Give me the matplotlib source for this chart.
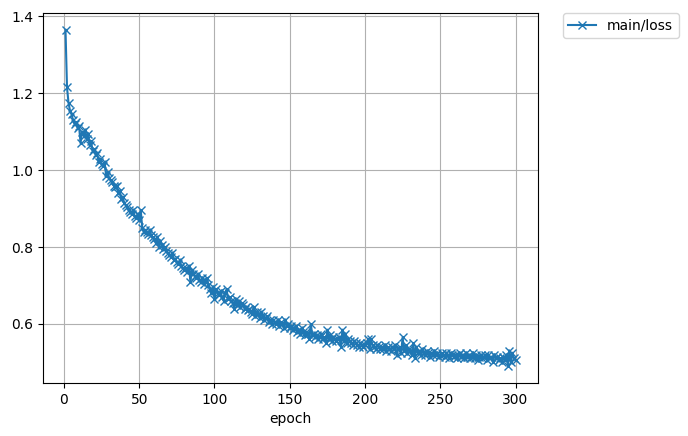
import matplotlib
matplotlib.use("Agg")
import matplotlib.pyplot as plt

loss = [
    1.365, 1.215, 1.175, 1.155, 1.145, 1.13, 1.12, 1.125, 1.11, 1.115,
    1.07, 1.10, 1.09, 1.105, 1.08, 1.095, 1.065, 1.075, 1.05, 1.055,
    1.04, 1.045, 1.02, 1.03, 1.015, 1.01, 1.02, 0.985, 0.995, 0.98,
    0.975, 0.97, 0.96, 0.955, 0.96, 0.94, 0.945, 0.925, 0.93, 0.915,
    0.91, 0.905, 0.895, 0.89, 0.885, 0.895, 0.88, 0.875, 0.885, 0.87,
    0.895, 0.85, 0.84, 0.845, 0.84, 0.835, 0.845, 0.83, 0.825, 0.82,
    0.81, 0.825, 0.80, 0.815, 0.805, 0.795, 0.80, 0.79, 0.785, 0.78,
    0.775, 0.785, 0.765, 0.77, 0.76, 0.755, 0.765, 0.75, 0.745, 0.74,
    0.745, 0.735, 0.75, 0.71, 0.74, 0.73, 0.725, 0.72, 0.73, 0.715,
    0.71, 0.72, 0.705, 0.715, 0.72, 0.70, 0.69, 0.68, 0.695, 0.665,
    0.69, 0.68, 0.675, 0.685, 0.67, 0.66, 0.68, 0.69, 0.665, 0.67,
    0.66, 0.655, 0.64, 0.665, 0.65, 0.66, 0.645, 0.655, 0.65, 0.64,
    0.645, 0.635, 0.64, 0.63, 0.625, 0.645, 0.62, 0.63, 0.625, 0.615,
    0.63, 0.62, 0.61, 0.615, 0.62, 0.605, 0.61, 0.60, 0.61, 0.605,
    0.60, 0.61, 0.595, 0.605, 0.60, 0.59, 0.61, 0.595, 0.60, 0.59,
    0.595, 0.585, 0.59, 0.595, 0.58, 0.585, 0.575, 0.59, 0.58, 0.57,
    0.58, 0.575, 0.56, 0.60, 0.57, 0.575, 0.565, 0.57, 0.56, 0.565,
    0.575, 0.56, 0.565, 0.55, 0.585, 0.56, 0.57, 0.555, 0.565, 0.56,
    0.555, 0.56, 0.565, 0.54, 0.585, 0.555, 0.575, 0.55, 0.56, 0.555,
    0.55, 0.545, 0.555, 0.55, 0.545, 0.54, 0.55, 0.545, 0.54, 0.545,
    0.55, 0.56, 0.535, 0.56, 0.545, 0.54, 0.535, 0.545, 0.54, 0.535,
    0.54, 0.535, 0.545, 0.53, 0.54, 0.535, 0.53, 0.54, 0.535, 0.545,
    0.52, 0.535, 0.54, 0.525, 0.565, 0.53, 0.545, 0.525, 0.535, 0.53,
    0.52, 0.55, 0.51, 0.54, 0.525, 0.53, 0.52, 0.535, 0.525, 0.52,
    0.53, 0.525, 0.515, 0.525, 0.52, 0.53, 0.52, 0.525, 0.515, 0.52,
    0.525, 0.52, 0.515, 0.525, 0.52, 0.51, 0.525, 0.52, 0.515, 0.52,
    0.51, 0.52, 0.525, 0.515, 0.52, 0.51, 0.525, 0.515, 0.52, 0.51,
    0.515, 0.525, 0.51, 0.52, 0.505, 0.515, 0.52, 0.51, 0.515, 0.52,
    0.505, 0.52, 0.51, 0.515, 0.50, 0.52, 0.51, 0.515, 0.505, 0.51,
    0.50, 0.515, 0.505, 0.52, 0.49, 0.53, 0.50, 0.525, 0.51, 0.505,
]
epochs = list(range(1, len(loss) + 1))

fig = plt.figure(figsize=(6.88, 4.36), dpi=100)
ax = fig.add_axes([43/688, 1 - 383/436, 495/688, 370/436])
ax.plot(epochs, loss, marker='x', color='#1f77b4', label='main/loss')
ax.grid(True)
ax.set_xlabel('epoch')
ax.legend(bbox_to_anchor=(1.05, 1), loc='upper left', borderaxespad=0)
fig.savefig('out.png', dpi=100)
